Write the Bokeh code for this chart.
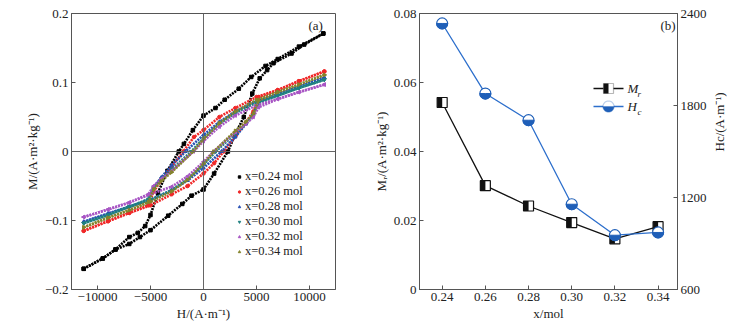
import numpy as np
from bokeh.plotting import figure
from bokeh.layouts import row
from bokeh.models import (Range1d, LinearAxis, FixedTicker, CustomJSTickFormatter, Label,
                          Legend, LegendItem, Span, ColumnDataSource, PolyAnnotation, Arrow)
from bokeh.transform import dodge
from bokeh.embed import file_html
from bokeh.resources import INLINE

# ---------------- Panel (a): hysteresis loops ----------------
series_labels = ["x=0.24 mol", "x=0.26 mol", "x=0.28 mol", "x=0.30 mol", "x=0.32 mol", "x=0.34 mol"]
series_colors = ["#000000", "#f02828", "#2850b4", "#1f8080", "#a856c4", "#84842c"]
series_markers = ["square", "circle", "triangle", "inverted_triangle", "triangle", "triangle"]
series_angles = [0, 0, 0, 0, np.pi / 2, -np.pi / 2]

# descending branch (from +Hmax to -Hmax) and ascending branch
H_desc_024 = [11300, 9000, 7000, 5850, 4500, 3330, 2000, 1130, 0, -1000, -1850, -2330, -3400, -4300, -5000, -5500, -6200, -7000, -8300, -9500, -11300]
M_desc_024 = [0.171, 0.152, 0.134, 0.124, 0.108, 0.091, 0.075, 0.063, 0.052, 0.031, 0.011, 0.0, -0.028, -0.060, -0.092, -0.108, -0.118, -0.124, -0.142, -0.155, -0.170]
H_asc_024 = [-11300, -9500, -8300, -7000, -6000, -5000, -3330, -2000, -1130, 0, 1000, 2300, 3000, 3800, 4600, 5300, 6000, 6600, 8300, 9500, 11300]
M_asc_024 = [-0.170, -0.155, -0.142, -0.134, -0.124, -0.114, -0.093, -0.076, -0.064, -0.055, -0.032, 0.0, 0.025, 0.050, 0.084, 0.106, 0.118, 0.128, 0.142, 0.155, 0.171]

H_desc_026 = [11400, 9000, 7000, 5000, 3000, 1500, 0, -900, -1900, -3000, -4000, -4700, -5200, -7000, -9000, -11300]
M_desc_026 = [0.116, 0.102, 0.089, 0.079, 0.063, 0.050, 0.031, 0.021, 0.0, -0.022, -0.042, -0.058, -0.078, -0.089, -0.101, -0.115]
H_asc_026 = [-11300, -9000, -7000, -5000, -3000, -1500, 0, 1000, 1900, 3000, 4000, 4700, 5200, 7000, 9000, 11400]
M_asc_026 = [-0.115, -0.101, -0.089, -0.078, -0.062, -0.050, -0.032, -0.017, 0.0, 0.022, 0.042, 0.058, 0.079, 0.089, 0.102, 0.116]

H_desc_028 = [11400, 9000, 7000, 5000, 3000, 1500, 0, -1700, -3000, -4000, -4700, -5200, -7000, -9000, -11300]
M_desc_028 = [0.107, 0.094, 0.083, 0.073, 0.058, 0.043, 0.024, 0.0, -0.020, -0.038, -0.052, -0.070, -0.080, -0.090, -0.102]
H_asc_028 = [-11300, -9000, -7000, -5000, -3000, -1500, 0, 1700, 3000, 4000, 4700, 5200, 7000, 9000, 11400]
M_asc_028 = [-0.102, -0.090, -0.080, -0.070, -0.056, -0.042, -0.024, 0.0, 0.021, 0.040, 0.054, 0.073, 0.083, 0.094, 0.107]

H_desc_030 = [11400, 9000, 7000, 5000, 3000, 1500, 0, -1160, -3000, -4000, -4700, -5200, -7000, -9000, -11300]
M_desc_030 = [0.104, 0.092, 0.081, 0.071, 0.056, 0.040, 0.019, 0.0, -0.026, -0.040, -0.052, -0.069, -0.080, -0.092, -0.104]
H_asc_030 = [-11300, -9000, -7000, -5000, -3000, -1500, 0, 1160, 3000, 4000, 4700, 5200, 7000, 9000, 11400]
M_asc_030 = [-0.104, -0.092, -0.080, -0.070, -0.056, -0.040, -0.019, 0.0, 0.026, 0.040, 0.052, 0.070, 0.081, 0.092, 0.104]

H_desc_032 = [11400, 9000, 7000, 5000, 3000, 1500, 0, -950, -3000, -4000, -4700, -5200, -7000, -9000, -11300]
M_desc_032 = [0.097, 0.086, 0.076, 0.067, 0.052, 0.036, 0.015, 0.0, -0.028, -0.040, -0.050, -0.062, -0.074, -0.084, -0.095]
H_asc_032 = [-11300, -9000, -7000, -5000, -3000, -1500, 0, 950, 3000, 4000, 4700, 5200, 7000, 9000, 11400]
M_asc_032 = [-0.095, -0.084, -0.074, -0.062, -0.051, -0.036, -0.015, 0.0, 0.028, 0.040, 0.050, 0.064, 0.076, 0.086, 0.097]

H_desc_034 = [11400, 9000, 7000, 5000, 3000, 1500, 0, -970, -3000, -4000, -4700, -5200, -7000, -9000, -11300]
M_desc_034 = [0.111, 0.097, 0.086, 0.075, 0.058, 0.041, 0.018, 0.0, -0.030, -0.043, -0.055, -0.073, -0.085, -0.096, -0.110]
H_asc_034 = [-11300, -9000, -7000, -5000, -3000, -1500, 0, 970, 3000, 4000, 4700, 5200, 7000, 9000, 11400]
M_asc_034 = [-0.110, -0.096, -0.085, -0.073, -0.058, -0.041, -0.018, 0.0, 0.030, 0.043, 0.055, 0.074, 0.086, 0.097, 0.111]

loops = [
    (H_desc_024, M_desc_024, H_asc_024, M_asc_024),
    (H_desc_026, M_desc_026, H_asc_026, M_asc_026),
    (H_desc_028, M_desc_028, H_asc_028, M_asc_028),
    (H_desc_030, M_desc_030, H_asc_030, M_asc_030),
    (H_desc_032, M_desc_032, H_asc_032, M_asc_032),
    (H_desc_034, M_desc_034, H_asc_034, M_asc_034),
]

# ---------------- Panel (b): Mr and Hc vs x ----------------
x_mol = [0.24, 0.26, 0.28, 0.30, 0.32, 0.34]
Mr = [0.0542, 0.0301, 0.0242, 0.0194, 0.0147, 0.0182]
Hc = [2335, 1878, 1704, 1156, 954, 972]

FONT = "Liberation Serif"
AX = "#555555"


def style(p):
    p.outline_line_color = AX
    p.outline_line_width = 1
    p.xgrid.grid_line_color = None
    p.ygrid.grid_line_color = None
    for ax in p.axis:
        ax.axis_line_color = AX
        ax.major_tick_line_color = AX
        ax.major_tick_in = 4
        ax.major_tick_out = 0
        ax.minor_tick_line_color = None
        ax.major_label_text_font = FONT
        ax.major_label_text_font_size = "13px"
        ax.major_label_text_color = "#222222"
        ax.axis_label_text_font = FONT
        ax.axis_label_text_font_size = "13px"
        ax.axis_label_text_font_style = "normal"
        ax.axis_label_text_color = "#222222"


# ---- figure a ----
pa = figure(width=370, height=330, output_backend="svg", toolbar_location=None,
            x_range=Range1d(-12450, 12450), y_range=Range1d(-0.2, 0.2),
            min_border_left=71, min_border_right=35, min_border_top=13, min_border_bottom=41)
pa.add_layout(Span(location=0, dimension="width", line_color="#666666", line_width=1))
pa.add_layout(Span(location=0, dimension="height", line_color="#666666", line_width=1))

legend_items = []
for (hd, md, ha, ma), lab, col, mk, ang in zip(loops, series_labels, series_colors, series_markers, series_angles):
    rs = []
    for hh, mm in ((hd, md), (ha, ma)):
        pa.line(hh, mm, line_color=col, line_width=2.6, line_dash="2 1")
        r = pa.scatter(hh, mm, marker=mk, angle=ang, size=3.5, fill_color=col, line_color=col)
        rs.append(r)
    legend_items.append(LegendItem(label=lab, renderers=[rs[0]]))

pa.xaxis.axis_label = "H/(A·m⁻¹)"
pa.yaxis.axis_label = "M/(A·m²·kg⁻¹)"
pa.xaxis.ticker = FixedTicker(ticks=[-10000, -5000, 0, 5000, 10000])
pa.yaxis.ticker = FixedTicker(ticks=[-0.2, -0.1, 0, 0.1, 0.2])
pa.xaxis.formatter = CustomJSTickFormatter(code="return tick < 0 ? '\u2212' + Math.abs(tick) : '' + tick;")
pa.yaxis.formatter = CustomJSTickFormatter(code="if (Math.abs(tick) < 1e-9) return '0'; return (tick < 0 ? '\u2212' : '') + Math.abs(tick).toFixed(1);")
pa.xaxis.axis_label_standoff = 2
pa.yaxis.axis_label_standoff = 2
pa.xaxis.major_label_standoff = 3
pa.yaxis.major_label_standoff = 3
style(pa)

leg = Legend(items=legend_items, location=(165, 30), padding=0, margin=0, spacing=0,
             glyph_width=6, glyph_height=15, label_standoff=3,
             label_text_font=FONT, label_text_font_size="12.5px", label_text_color="#222222",
             background_fill_alpha=0, border_line_color=None)
pa.add_layout(leg)
pa.add_layout(Label(x=237, y=257, x_units="screen", y_units="screen", text="(a)",
                    text_font=FONT, text_font_size="13px", text_color="#222222"))

# ---- figure b ----
pb = figure(width=369, height=330, output_backend="svg", toolbar_location=None,
            x_range=Range1d(0.2295, 0.349), y_range=Range1d(0, 0.08),
            min_border_left=44, min_border_right=62, min_border_top=13, min_border_bottom=41)
pb.extra_y_ranges = {"hc": Range1d(600, 2400)}
right_axis = LinearAxis(y_range_name="hc")
pb.add_layout(right_axis, "right")

HC_LINE = "#2d6fcc"
HC_FILL = "#1f5fb8"
src_m = ColumnDataSource(dict(x=x_mol, y=Mr))
src_h = ColumnDataSource(dict(x=x_mol, y=Hc))

pb.line("x", "y", source=src_m, line_color="#111111", line_width=1.3)
pb.line("x", "y", source=src_h, line_color=HC_LINE, line_width=1.3, y_range_name="hc")

half_dx = 0.02 / 44 * 2.5
pb.scatter("x", "y", source=src_m, marker="square", size=10, fill_color="white", line_color="#111111", line_width=1.2)
pb.rect(x=dodge("x", -half_dx, range=pb.x_range), y="y", source=src_m, width=5, height=10,
        width_units="screen", height_units="screen", fill_color="#111111", line_color=None)
pb.scatter("x", "y", source=src_h, marker="circle", size=11, fill_color="white", line_color=HC_FILL,
           line_width=1.2, y_range_name="hc")
pb.wedge("x", "y", source=src_h, radius=5.5, radius_units="screen", start_angle=np.pi, end_angle=2 * np.pi,
         fill_color=HC_FILL, line_color=HC_FILL, y_range_name="hc")

pb.xaxis.axis_label = "x/mol"
pb.yaxis[0].axis_label = "Mᵣ/(A·m²·kg⁻¹)"
right_axis.axis_label = "Hc/(A·m⁻¹)"
right_axis.axis_label_orientation = np.pi / 2
pb.xaxis.ticker = FixedTicker(ticks=x_mol)
pb.yaxis[0].ticker = FixedTicker(ticks=[0, 0.02, 0.04, 0.06, 0.08])
right_axis.ticker = FixedTicker(ticks=[600, 1200, 1800, 2400])
pb.xaxis.formatter = CustomJSTickFormatter(code="return tick.toFixed(2);")
pb.yaxis[0].formatter = CustomJSTickFormatter(code="if (Math.abs(tick) < 1e-9) return '0'; return tick.toFixed(2);")
for ax in pb.axis:
    ax.major_label_standoff = 3
    ax.axis_label_standoff = 2
right_axis.axis_label_standoff = 10
style(pb)

# manual legend (screen units, relative to frame)
lx0, lx1, lxc = 174, 204, 189
ym, yh = 201, 183
pb.add_layout(Arrow(start=None, end=None, x_start=lx0, y_start=ym, x_end=lx1, y_end=ym,
                    start_units="screen", end_units="screen", line_color="#111111", line_width=1.3))
pb.add_layout(Arrow(start=None, end=None, x_start=lx0, y_start=yh, x_end=lx1, y_end=yh,
                    start_units="screen", end_units="screen", line_color=HC_LINE, line_width=1.3))
pb.add_layout(PolyAnnotation(xs=[lxc - 5, lxc + 5, lxc + 5, lxc - 5], ys=[ym - 5, ym - 5, ym + 5, ym + 5],
                             xs_units="screen", ys_units="screen", fill_color="white", fill_alpha=1,
                             line_color="#111111", line_width=1.2))
pb.add_layout(PolyAnnotation(xs=[lxc - 5, lxc, lxc, lxc - 5], ys=[ym - 5, ym - 5, ym + 5, ym + 5],
                             xs_units="screen", ys_units="screen", fill_color="#111111", fill_alpha=1,
                             line_color=None))
theta_full = np.linspace(0, 2 * np.pi, 41)
theta_half = np.linspace(np.pi, 2 * np.pi, 21)
pb.add_layout(PolyAnnotation(xs=list(lxc + 5.5 * np.cos(theta_full)), ys=list(yh + 5.5 * np.sin(theta_full)),
                             xs_units="screen", ys_units="screen", fill_color="white", fill_alpha=1,
                             line_color=HC_FILL, line_width=1.2))
pb.add_layout(PolyAnnotation(xs=list(lxc + 5.5 * np.cos(theta_half)), ys=list(yh + 5.5 * np.sin(theta_half)),
                             xs_units="screen", ys_units="screen", fill_color=HC_FILL, fill_alpha=1,
                             line_color=HC_FILL, line_width=1))
for yy, letter, sub in ((ym, "M", "r"), (yh, "H", "c")):
    pb.add_layout(Label(x=208, y=yy, x_units="screen", y_units="screen", text=letter, text_baseline="middle",
                        text_font=FONT, text_font_style="italic", text_font_size="13px", text_color="#222222"))
    pb.add_layout(Label(x=218, y=yy - 5, x_units="screen", y_units="screen", text=sub, text_baseline="middle",
                        text_font=FONT, text_font_style="italic", text_font_size="9px", text_color="#222222"))
pb.add_layout(Label(x=241, y=257, x_units="screen", y_units="screen", text="(b)",
                    text_font=FONT, text_font_size="13px", text_color="#222222"))

layout = row(pa, pb)
open("out.html", "w").write(file_html(layout, INLINE))
